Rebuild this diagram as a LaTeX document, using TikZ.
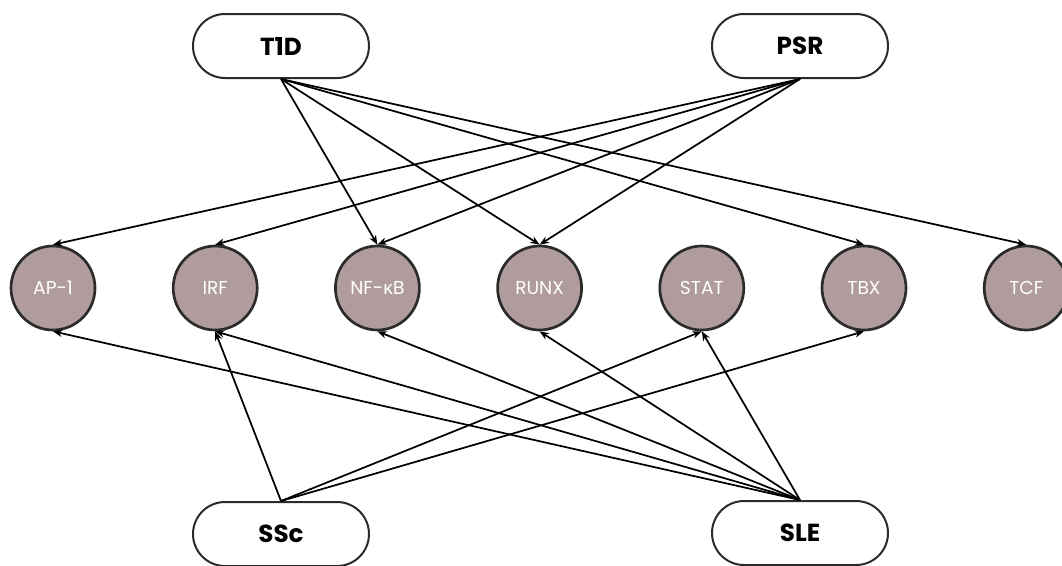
\documentclass[tikz,border=0pt]{standalone}
\usepackage{fontspec}
\setmainfont{Poppins}
\newfontfamily\kfont{Noto Sans}
\usetikzlibrary{arrows.meta}
\definecolor{tfgray}{HTML}{B09C9D}
\definecolor{edge}{HTML}{2B2B2B}
\tikzset{
  disease/.style={draw=edge,line width=1.5pt,rectangle,rounded corners=24pt,minimum width=132pt,minimum height=48pt,inner sep=0pt,font=\fontsize{18.5}{20}\selectfont\bfseries},
  tf/.style={draw=edge,line width=2pt,circle,fill=tfgray,minimum size=63pt,inner sep=0pt,text=white,font=\fontsize{14}{16}\selectfont},
  link/.style={->,line width=1.3pt}
}

\begin{document}
\begin{tikzpicture}[x=0.75pt,y=-0.75pt,>={Stealth[length=7pt,width=5.5pt]}]
\useasboundingbox (0,0) rectangle (1062,565);
% diseases
\node[disease] (t1d) at (281,46) {T1D};
\node[disease] (psr) at (800,46) {PSR};
\node[disease] (ssc) at (281,534) {SSc};
\node[disease] (sle) at (800,533) {SLE};
% transcription factor families
\foreach \n/\t [count=\i from 0] in {ap/AP-1,irf/IRF,nfkb/NF-{\kfont κ}B,runx/RUNX,stat/STAT,tbx/TBX,tcf/TCF}
  \node[tf] (\n) at (53+162.2*\i,288) {\t};
% edges from the top
\foreach \m in {nfkb,runx,tbx,tcf} \draw[link] (t1d.south) -- (\m.north);
\foreach \m in {ap,irf,nfkb,runx} \draw[link] (psr.south) -- (\m.north);
% edges from the bottom
\foreach \m in {irf,stat,tbx} \draw[link] (ssc.north) -- (\m.south);
\foreach \m in {ap,irf,nfkb,runx,stat} \draw[link] (sle.north) -- (\m.south);
\end{tikzpicture}
\end{document}
